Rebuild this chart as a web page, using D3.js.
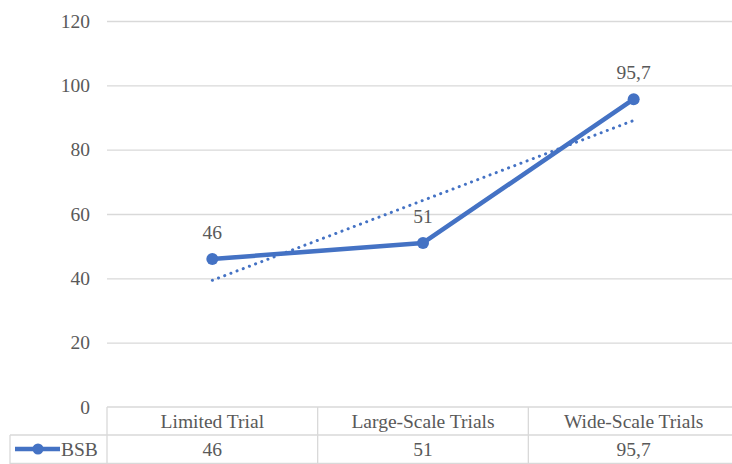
<!DOCTYPE html>
<html>
<head>
<meta charset="utf-8">
<script src="https://cdn.jsdelivr.net/npm/d3@7"></script>
<style>
  body { margin: 0; background: #fff; }
  svg text { fill: #595959; }
  .grid line { stroke: #d9d9d9; stroke-width: 1.3; }
  .grid .domain { display: none; }
</style>
</head>
<body>
<script>
// chart data
var categories = ["Limited Trial", "Large-Scale Trials", "Wide-Scale Trials"];
var seriesName = "BSB";
var bsbValues = [46, 51, 95.7];
var valueLabels = ["46", "51", "95,7"];
var yTicks = [0, 20, 40, 60, 80, 100, 120];

var W = 732, H = 464;
var plot = {left: 107, right: 739, top: 21, bottom: 407};
var rowH = 28;
var FONT = "'Liberation Serif', 'DejaVu Serif', 'Times New Roman', serif";
var FS = "19.5px";

var svg = d3.select("body").append("svg")
    .attr("width", W).attr("height", H)
    .attr("font-family", FONT);

var x = d3.scaleBand().domain(categories).range([plot.left, plot.right]);
var y = d3.scaleLinear().domain([0, 120]).range([plot.bottom, plot.top]);
var cx = function(c) { return x(c) + x.bandwidth() / 2; };

// horizontal gridlines
svg.append("g")
   .attr("class", "grid")
   .attr("transform", "translate(" + plot.left + ",0)")
   .call(d3.axisRight(y).tickValues(yTicks.slice(1)).tickSize(W - plot.left).tickFormat(""));

// y labels
svg.selectAll(".ylab").data(yTicks).enter().append("text")
   .attr("x", 90).attr("y", function(d) { return y(d); })
   .attr("dy", "0.35em").attr("text-anchor", "end")
   .style("font-family", FONT).style("font-size", FS)
   .text(function(d) { return d; });

// data table
var tbl = svg.append("g").attr("stroke", "#d9d9d9").attr("stroke-width", 1.3);
tbl.append("line").attr("x1", plot.left).attr("x2", W).attr("y1", plot.bottom).attr("y2", plot.bottom);
tbl.append("line").attr("x1", 10).attr("x2", W).attr("y1", plot.bottom + rowH).attr("y2", plot.bottom + rowH);
tbl.append("line").attr("x1", 10).attr("x2", W).attr("y1", H - 0.5).attr("y2", H - 0.5);
tbl.append("line").attr("x1", 10).attr("x2", 10).attr("y1", plot.bottom + rowH).attr("y2", H);
categories.forEach(function(c) {
    tbl.append("line").attr("x1", x(c)).attr("x2", x(c)).attr("y1", plot.bottom).attr("y2", H);
});

svg.selectAll(".cat").data(categories).enter().append("text")
   .attr("x", cx).attr("y", plot.bottom + rowH / 2)
   .attr("dy", "0.35em").attr("text-anchor", "middle")
   .style("font-family", FONT).style("font-size", FS)
   .text(function(d) { return d; });

svg.selectAll(".cell").data(valueLabels).enter().append("text")
   .attr("x", function(d, i) { return cx(categories[i]); })
   .attr("y", plot.bottom + rowH * 1.5)
   .attr("dy", "0.35em").attr("text-anchor", "middle")
   .style("font-family", FONT).style("font-size", FS)
   .text(function(d) { return d; });

// legend key in table
var ly = plot.bottom + rowH * 1.5;
svg.append("line").attr("x1", 15).attr("x2", 60).attr("y1", ly).attr("y2", ly)
   .attr("stroke", "#4472c4").attr("stroke-width", 4.5);
svg.append("circle").attr("cx", 38).attr("cy", ly).attr("r", 5.5).attr("fill", "#4472c4");
svg.append("text").attr("x", 61).attr("y", ly).attr("dy", "0.35em")
   .style("font-family", FONT).style("font-size", FS).text(seriesName);

// linear trendline (least squares on category index)
var n = bsbValues.length;
var xs = d3.range(1, n + 1);
var mx = d3.mean(xs), my = d3.mean(bsbValues);
var slope = d3.sum(xs, function(v, i) { return (v - mx) * (bsbValues[i] - my); }) /
            d3.sum(xs, function(v) { return (v - mx) * (v - mx); });
var trend = [xs[0], xs[n - 1]].map(function(v) { return my + slope * (v - mx); });

svg.append("line")
   .attr("x1", cx(categories[0])).attr("y1", y(trend[0]))
   .attr("x2", cx(categories[n - 1])).attr("y2", y(trend[1]))
   .attr("stroke", "#4472c4").attr("stroke-width", 3)
   .attr("stroke-linecap", "round").attr("stroke-dasharray", "0.1 6.5");

// series line
var line = d3.line()
    .x(function(d, i) { return cx(categories[i]); })
    .y(function(d) { return y(d); });

svg.append("path").datum(bsbValues)
   .attr("d", line).attr("fill", "none")
   .attr("stroke", "#4472c4").attr("stroke-width", 4.5)
   .attr("stroke-linejoin", "round");

svg.selectAll(".pt").data(bsbValues).enter().append("circle")
   .attr("cx", function(d, i) { return cx(categories[i]); })
   .attr("cy", function(d) { return y(d); })
   .attr("r", 6).attr("fill", "#4472c4");

svg.selectAll(".vlab").data(bsbValues).enter().append("text")
   .attr("x", function(d, i) { return cx(categories[i]); })
   .attr("y", function(d) { return y(d) - 20; })
   .attr("text-anchor", "middle")
   .style("font-family", FONT).style("font-size", FS)
   .text(function(d, i) { return valueLabels[i]; });
</script>
</body>
</html>
